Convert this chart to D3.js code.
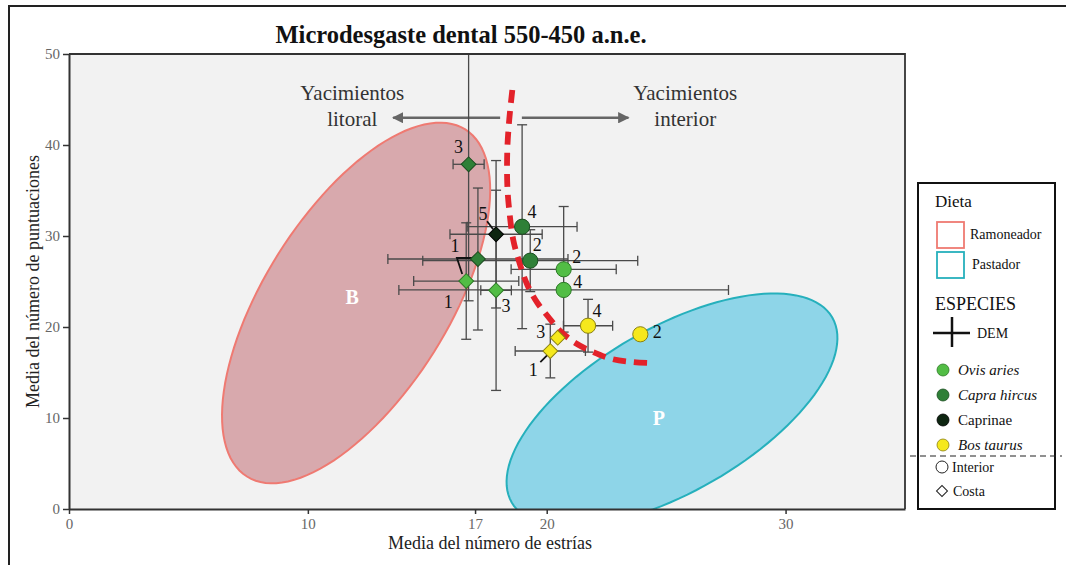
<!DOCTYPE html>
<html><head><meta charset="utf-8">
<script src="https://cdn.jsdelivr.net/npm/d3@7"></script>
<style>
html,body{margin:0;padding:0;background:#fff;}
svg{display:block;font-family:"Liberation Serif","Times New Roman",serif;}
</style></head>
<body>
<svg id="chart" width="1066" height="565"></svg>
<script>
// ---------- DATA ----------
const title = "Microdesgaste dental 550-450 a.n.e.";
const xTicks = [0, 10, 17, 20, 30];
const yTicks = [0, 10, 20, 30, 40, 50];
const xLabel = "Media del número de estrías";
const yLabel = "Media del número de puntuaciones";

const species = ["Ovis aries", "Capra hircus", "Caprinae", "Bos taurus"];
const speciesItalic = [true, true, false, true];
// points
const ptSpecies = ["Ovis aries","Ovis aries","Ovis aries","Ovis aries",
                   "Capra hircus","Capra hircus","Capra hircus","Capra hircus",
                   "Caprinae","Bos taurus","Bos taurus","Bos taurus","Bos taurus"];
const ptSite    = ["Costa","Costa","Interior","Interior",
                   "Costa","Costa","Interior","Interior",
                   "Costa","Costa","Costa","Interior","Interior"];
const ptLabel   = ["1","3","2","4","3","1","4","2","5","3","1","4","2"];
const ptX       = [16.63,17.88,20.71,20.71,16.73,17.12,18.97,19.31,17.88,20.46,20.15,21.73,23.92];
const ptY       = [25.05,24.03,26.34,24.07,37.88,27.47,31.02,27.29,30.19,18.82,17.36,20.14,19.20];
const ptErrX    = [2.20,0.64,2.20,6.90,0.65,3.77,2.30,4.50,1.93,0,1.47,1.03,0];
const ptErrY    = [6.40,11.0,6.90,0,15.0,7.80,11.2,3.40,8.10,0,2.95,2.90,0];

// diet ellipses (center, two conjugate half-axis vectors, in data units)
const dietNames = ["Ramoneador", "Pastador"];
const dietLetters = ["B", "P"];
const ellCx = [12.02, 25.245];
const ellCy = [22.64, 10.88];
const ellU  = [[4.57, 19.07], [6.71, 10.16]];
const ellV  = [[3.26, -5.38], [1.717, -7.80]];
const letterX = [11.86, 24.7];
const letterY = [23.3, 10.0];

// dashed boundary between coastal and inland sites
const boundX = [18.56,18.43,18.35,18.35,18.43,18.60,18.89,19.19,19.61,20.07,20.57,21.20,21.95,22.75,23.63,24.42];
const boundY = [46.04,42.75,39.45,35.60,32.86,29.56,26.81,24.62,22.64,21.10,19.56,18.24,17.25,16.48,16.15,16.04];

// arrows + texts
const arrowY = 43.0;
const arrowLeft = [18.05, 13.57];
const arrowRight = [18.96, 23.42];
const zoneText = [["Yacimientos","litoral"],["Yacimientos","interior"]];
const zoneTextX = [11.86, 25.8];

// ---------- STYLE ----------
const W = 1066, H = 565;
const colors = {"Ovis aries":"#52bd45","Capra hircus":"#2f8037","Caprinae":"#0e2611","Bos taurus":"#f5e81c"};
const strokes = {"Ovis aries":"#2c7a25","Capra hircus":"#1b4d20","Caprinae":"#000","Bos taurus":"#8a8010"};
const ellFill = ["#d8a9ad","#8ed5e8"];
const ellStroke = ["#ef7a72","#26b0bc"];
const lblOff = [[-18,27],[10,22],[13,-6],[14,-2],[-10,-11],[-23,-7],[10,-9],[7,-10],[-13,-14],[-17,0],[-17,25],[9,-9],[17,4]];

const svg = d3.select("#chart");
const x = d3.scaleLinear().domain([0,35]).range([69,905]);
const y = d3.scaleLinear().domain([0,50]).range([509,54]);

// outer frame
svg.append("rect").attr("x",9).attr("y",6).attr("width",W).attr("height",H+20)
  .attr("fill","none").attr("stroke","#222").attr("stroke-width",2);

// plot bg
svg.append("rect").attr("x",x(0)).attr("y",y(50)).attr("width",x(35)-x(0)).attr("height",y(0)-y(50))
  .attr("fill","#f2f2f2");

svg.append("clipPath").attr("id","clip").append("rect")
  .attr("x",x(0)).attr("y",y(50)).attr("width",x(35)-x(0)).attr("height",y(0)-y(50));

const plot = svg.append("g").attr("clip-path","url(#clip)");

// ellipses
dietNames.forEach((d,i)=>{
  const pts = d3.range(0,361,3).map(a=>{
    const t = a*Math.PI/180;
    return [ellCx[i]+Math.cos(t)*ellU[i][0]+Math.sin(t)*ellV[i][0],
            ellCy[i]+Math.cos(t)*ellU[i][1]+Math.sin(t)*ellV[i][1]];
  });
  plot.append("path").attr("d", d3.line().x(p=>x(p[0])).y(p=>y(p[1])).curve(d3.curveLinearClosed)(pts))
    .attr("fill",ellFill[i]).attr("stroke",ellStroke[i]).attr("stroke-width",2);
  plot.append("text").attr("x",x(letterX[i])).attr("y",y(letterY[i])+7).attr("text-anchor","middle")
    .attr("fill","#fff").attr("font-weight","bold").attr("font-size",20).text(dietLetters[i]);
});

// arrows
const defs = svg.append("defs");
defs.append("marker").attr("id","ah").attr("viewBox","0 0 10 10").attr("refX",9).attr("refY",5)
  .attr("markerWidth",4.4).attr("markerHeight",4.4).attr("orient","auto")
  .append("path").attr("d","M0,0L10,5L0,10Z").attr("fill","#666");
[arrowLeft, arrowRight].forEach(a=>{
  plot.append("line").attr("x1",x(a[0])).attr("x2",x(a[1])).attr("y1",y(arrowY)).attr("y2",y(arrowY))
    .attr("stroke","#666").attr("stroke-width",2.6).attr("marker-end","url(#ah)");
});
zoneText.forEach((lines,i)=>{
  lines.forEach((t,j)=>{
    svg.append("text").attr("x",x(zoneTextX[i])).attr("y",y(arrowY)-18+j*26)
      .attr("text-anchor","middle").attr("font-size",21).attr("fill","#333").text(t);
  });
});

// error bars
const eb = plot.append("g").attr("stroke","#4a4a4a").attr("stroke-width",1.3);
ptX.forEach((vx,i)=>{
  const vy = ptY[i], ex = ptErrX[i], ey = ptErrY[i], c = 5;
  if (ex>0){
    eb.append("line").attr("x1",x(vx-ex)).attr("x2",x(vx+ex)).attr("y1",y(vy)).attr("y2",y(vy));
    [vx-ex,vx+ex].forEach(v=>eb.append("line").attr("x1",x(v)).attr("x2",x(v)).attr("y1",y(vy)-c).attr("y2",y(vy)+c));
  }
  if (ey>0){
    eb.append("line").attr("x1",x(vx)).attr("x2",x(vx)).attr("y1",y(vy-ey)).attr("y2",y(vy+ey));
    [vy-ey,vy+ey].forEach(v=>eb.append("line").attr("x1",x(vx)-c).attr("x2",x(vx)+c).attr("y1",y(v)).attr("y2",y(v)));
  }
});

// dashed boundary
plot.append("path").attr("d", d3.line().x(d=>x(d[0])).y(d=>y(d[1])).curve(d3.curveCatmullRom)(d3.zip(boundX,boundY)))
  .attr("fill","none").attr("stroke","#e3222a").attr("stroke-width",5.8).attr("stroke-dasharray","13,8");

// label leader lines
const leaders = [[8,[[-9,-13],[-3,-5]]],[10,[[-10,11],[-3,4]]]];
leaders.forEach(([i,seg])=>{
  svg.append("line").attr("x1",x(ptX[i])+seg[0][0]).attr("y1",y(ptY[i])+seg[0][1])
    .attr("x2",x(ptX[i])+seg[1][0]).attr("y2",y(ptY[i])+seg[1][1]).attr("stroke","#111").attr("stroke-width",1.8);
});
svg.append("path").attr("d", d3.line()([
  [x(ptX[5])-5, y(ptY[5])-1],[x(ptX[5])-21, y(ptY[5])-1],[x(ptX[0])-4, y(ptY[0])-7]]))
  .attr("fill","none").attr("stroke","#111").attr("stroke-width",1.8);

// markers
const diamond = d3.symbol().type(d3.symbolSquare).size(110);
ptX.forEach((vx,i)=>{
  const px = x(vx), py = y(ptY[i]), sp = ptSpecies[i];
  if (ptSite[i]==="Interior"){
    svg.append("circle").attr("cx",px).attr("cy",py).attr("r",7.6)
      .attr("fill",colors[sp]).attr("stroke",strokes[sp]).attr("stroke-width",1);
  } else {
    svg.append("path").attr("d",diamond()).attr("transform",`translate(${px},${py}) rotate(45)`)
      .attr("fill",colors[sp]).attr("stroke",strokes[sp]).attr("stroke-width",1);
  }
  svg.append("text").attr("x",px+lblOff[i][0]).attr("y",py+lblOff[i][1]).attr("text-anchor","middle")
    .attr("font-size",18).attr("fill","#111").text(ptLabel[i]);
});

// axes
const yAxis = svg.append("g").attr("transform",`translate(${x(0)},0)`)
  .call(d3.axisLeft(y).tickValues(yTicks).tickSize(6).tickSizeOuter(0).tickPadding(3));
const xAxis = svg.append("g").attr("transform",`translate(0,${y(0)})`)
  .call(d3.axisBottom(x).tickValues(xTicks).tickSize(5).tickSizeOuter(0).tickPadding(4));
[yAxis,xAxis].forEach(g=>{
  g.selectAll("text").attr("font-family","Liberation Serif, serif").attr("font-size",15).attr("fill","#666");
  g.selectAll("line").attr("stroke","#333").attr("stroke-width",1.5);
  g.select(".domain").attr("stroke","#333").attr("stroke-width",2);
});
svg.append("path").attr("d",`M${x(0)},${y(50)}H${x(35)}V${y(0)}`).attr("fill","none")
  .attr("stroke","#333").attr("stroke-width",1.8);

// titles
svg.append("text").attr("x",461).attr("y",43).attr("text-anchor","middle").attr("font-size",24.5)
  .attr("font-weight","bold").attr("fill","#111").text(title);
svg.append("text").attr("x",(x(0)+x(35))/2+3).attr("y",549).attr("text-anchor","middle")
  .attr("font-size",18).attr("fill","#222").text(xLabel);
svg.append("text").attr("transform",`translate(39,${(y(0)+y(50))/2}) rotate(-90)`).attr("text-anchor","middle")
  .attr("font-size",18).attr("fill","#222").text(yLabel);

// legend
const lg = svg.append("g");
lg.append("rect").attr("x",918).attr("y",183).attr("width",137).attr("height",326)
  .attr("fill","#fff").attr("stroke","#111").attr("stroke-width",2);
lg.append("text").attr("x",935).attr("y",207).attr("font-size",17).attr("fill","#111").text("Dieta");
dietNames.forEach((d,i)=>{
  const yy = 222 + i*30;
  lg.append("rect").attr("x",937).attr("y",yy).attr("width",27).attr("height",26)
    .attr("fill","#fff").attr("stroke",ellStroke[i]).attr("stroke-width",1.8);
  lg.append("text").attr("x",970+i*2).attr("y",yy+17).attr("font-size",14).attr("fill","#111").text(d);
});
lg.append("text").attr("x",935).attr("y",310).attr("font-size",18).attr("fill","#111").text("ESPECIES");
lg.append("line").attr("x1",933).attr("x2",970).attr("y1",333).attr("y2",333).attr("stroke","#111").attr("stroke-width",2.5);
lg.append("line").attr("x1",952).attr("x2",952).attr("y1",317).attr("y2",347).attr("stroke","#111").attr("stroke-width",2.5);
lg.append("text").attr("x",977).attr("y",338).attr("font-size",14).attr("fill","#111").text("DEM");
species.forEach((s,i)=>{
  const yy = 370 + i*25;
  lg.append("circle").attr("cx",943).attr("cy",yy).attr("r",6).attr("fill",colors[s]).attr("stroke",strokes[s]).attr("stroke-width",0.8);
  lg.append("text").attr("x",958).attr("y",yy+5).attr("font-size",15).attr("font-style",speciesItalic[i]?"italic":"normal")
    .attr("fill","#111").text(s);
});
lg.append("line").attr("x1",910).attr("x2",1062).attr("y1",456).attr("y2",456).attr("stroke","#222")
  .attr("stroke-width",1.2).attr("stroke-dasharray","6,4");
lg.append("circle").attr("cx",942).attr("cy",467).attr("r",6).attr("fill","#fff").attr("stroke","#222").attr("stroke-width",1);
lg.append("text").attr("x",952).attr("y",472).attr("font-size",14).attr("fill","#111").text("Interior");
lg.append("path").attr("d",d3.symbol().type(d3.symbolSquare).size(60)()).attr("transform","translate(942,491) rotate(45)")
  .attr("fill","#fff").attr("stroke","#222").attr("stroke-width",1);
lg.append("text").attr("x",953).attr("y",496).attr("font-size",14).attr("fill","#111").text("Costa");
</script>
</body></html>
